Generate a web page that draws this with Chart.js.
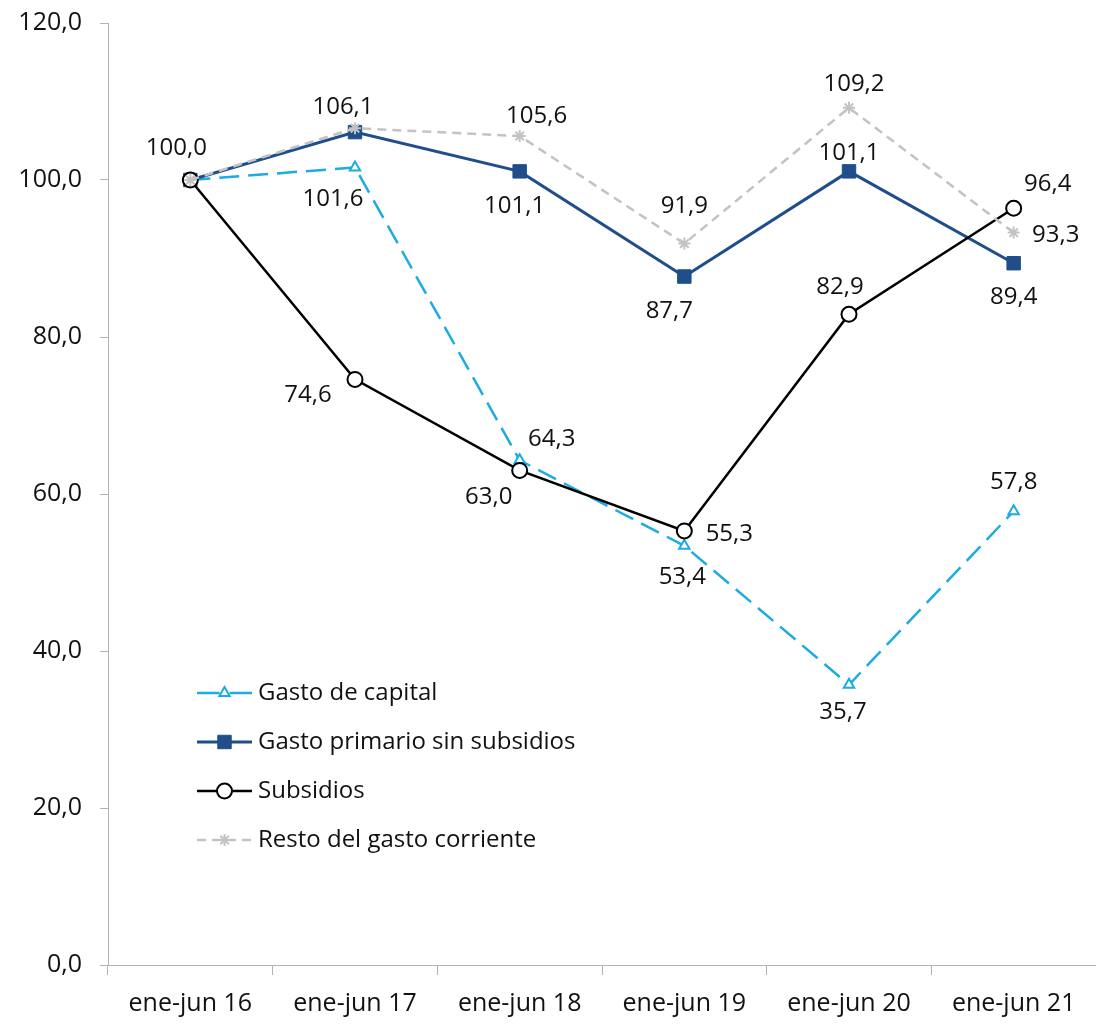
<!DOCTYPE html>
<html>
<head>
<meta charset="utf-8">
<script src="https://cdn.jsdelivr.net/npm/chart.js@4/dist/chart.umd.min.js"></script>
<style>
  html, body { margin: 0; padding: 0; background: #fff; overflow: hidden; }
  #wrap { width: 1096px; height: 1030px; position: relative; }
</style>
</head>
<body>
<div id="wrap"><canvas id="chart"></canvas></div>
<script>
// categories and series (índice, ene-jun 16 = 100)
const periods = ['ene-jun 16', 'ene-jun 17', 'ene-jun 18', 'ene-jun 19', 'ene-jun 20', 'ene-jun 21'];
const gastoCapital = [100.0, 101.6, 64.3, 53.4, 35.7, 57.8];
const gastoPrimario = [100.0, 106.1, 101.1, 87.7, 101.1, 89.4];
const subsidios = [100.0, 74.6, 63.0, 55.3, 82.9, 96.4];
const restoCorriente = [100.0, 106.6, 105.6, 91.9, 109.2, 93.3];
const yTicks = [0, 20, 40, 60, 80, 100, 120];

// where each value label sits relative to its point (null = no label)
const labelOffsets = [
  [[-14, -32], [-22, 32], [32, -21], [-2, 31], [-6, 27], [0, -29]],
  [null, [-12, -25], [-5, 35], [-15, 35], [0, -18], [0, 34]],
  [null, [-47, 16], [-31, 27], [45, 3], [-9, -27], [34, -24]],
  [null, null, [17, -20], [0, -37], [5, -24], [42, 3]]
];

const FONT = "'Open Sans', 'Noto Sans', sans-serif";
const fmt = v => v.toFixed(1).replace('.', ',');
const AXIS = '#b3b3b3';

const valueLabels = {
  id: 'valueLabels',
  afterDatasetsDraw(chart) {
    const ctx = chart.ctx;
    ctx.save();
    ctx.font = '24px ' + FONT;
    ctx.fillStyle = '#111';
    ctx.textAlign = 'center';
    ctx.textBaseline = 'middle';
    chart.data.datasets.forEach((ds, i) => {
      const meta = chart.getDatasetMeta(i);
      meta.data.forEach((pt, j) => {
        const off = labelOffsets[i][j];
        if (!off) return;
        ctx.fillText(fmt(ds.data[j]), pt.x + off[0], pt.y + off[1]);
      });
    });
    ctx.restore();
  }
};

// legend inside the plot, bottom left
const innerLegend = {
  id: 'innerLegend',
  afterDraw(chart) {
    const ctx = chart.ctx;
    const a = chart.chartArea;
    const x0 = a.left + 89, x1 = a.left + 144, tx = a.left + 150;
    const mx = (x0 + x1) / 2;
    let y = a.top + 670;
    ctx.save();
    chart.data.datasets.forEach(ds => {
      ctx.strokeStyle = ds.borderColor;
      ctx.lineWidth = ds.borderWidth;
      if (ds.borderDash && ds.borderDash[0] < 12) {
        ctx.setLineDash(ds.borderDash);
        ctx.beginPath();
        ctx.moveTo(x0, y);
        ctx.lineTo(x1, y);
        ctx.stroke();
      } else {
        // short samples read as solid on both sides of the marker
        ctx.beginPath();
        ctx.moveTo(x0, y); ctx.lineTo(mx - 5, y);
        ctx.moveTo(mx + 5, y); ctx.lineTo(x1, y);
        ctx.stroke();
      }
      ctx.setLineDash([]);
      ctx.lineWidth = ds.pointBorderWidth;
      ctx.strokeStyle = ds.pointBorderColor;
      ctx.fillStyle = ds.pointBackgroundColor;
      Chart.helpers.drawPoint(ctx, { pointStyle: ds.pointStyle, radius: ds.pointRadius, borderWidth: ds.pointBorderWidth, rotation: 0 }, mx, y);
      ctx.fillStyle = '#111';
      ctx.font = '24px ' + FONT;
      ctx.textAlign = 'left';
      ctx.textBaseline = 'middle';
      ctx.fillText(ds.label, tx, y);
      y += 49;
    });
    ctx.restore();
  }
};

new Chart(document.getElementById('chart'), {
  type: 'line',
  data: {
    labels: periods,
    datasets: [
      { label: 'Gasto de capital', data: gastoCapital, borderColor: '#1cabe2', borderWidth: 2.5, borderDash: [20, 9],
        pointStyle: 'triangle', pointRadius: 6, pointBorderWidth: 2, pointBorderColor: '#1cabe2', pointBackgroundColor: '#fff', order: 4 },
      { label: 'Gasto primario sin subsidios', data: gastoPrimario, borderColor: '#1f4e8a', borderWidth: 3,
        pointStyle: 'rect', pointRadius: 9.5, pointBorderWidth: 1, pointBorderColor: '#1f4e8a', pointBackgroundColor: '#1f4e8a', order: 3 },
      { label: 'Subsidios', data: subsidios, borderColor: '#000', borderWidth: 2.5,
        pointStyle: 'circle', pointRadius: 7.5, pointBorderWidth: 2, pointBorderColor: '#000', pointBackgroundColor: '#fff', order: 2 },
      { label: 'Resto del gasto corriente', data: restoCorriente, borderColor: '#c3c3c3', borderWidth: 2.5, borderDash: [9, 6],
        pointStyle: 'star', pointRadius: 6, pointBorderWidth: 2, pointBorderColor: '#c3c3c3', pointBackgroundColor: '#c3c3c3', order: 1 }
    ]
  },
  options: {
    responsive: true,
    maintainAspectRatio: false,
    animation: false,
    layout: { autoPadding: false, padding: { top: 23, right: 0, bottom: 0, left: 0 } },
    plugins: { legend: { display: false }, tooltip: { enabled: false } },
    scales: {
      x: {
        offset: true,
        afterFit: s => { s.height = 65; s.paddingLeft = 0; s.paddingRight = 0; },
        grid: { offset: true, drawOnChartArea: false, tickLength: 10, color: AXIS },
        border: { color: AXIS },
        ticks: { color: '#111', font: { family: FONT, size: 25 }, padding: 14, maxRotation: 0 }
      },
      y: {
        min: 0, max: 120,
        afterFit: s => { s.width = 108; s.paddingTop = 0; s.paddingBottom = 0; },
        afterBuildTicks: s => { s.ticks = yTicks.map(v => ({ value: v })); },
        grid: { drawOnChartArea: false, tickLength: 8, color: AXIS },
        border: { color: AXIS },
        ticks: { color: '#111', font: { family: FONT, size: 25 }, padding: 18, callback: v => fmt(v) }
      }
    }
  },
  plugins: [valueLabels, innerLegend]
});
</script>
</body>
</html>
